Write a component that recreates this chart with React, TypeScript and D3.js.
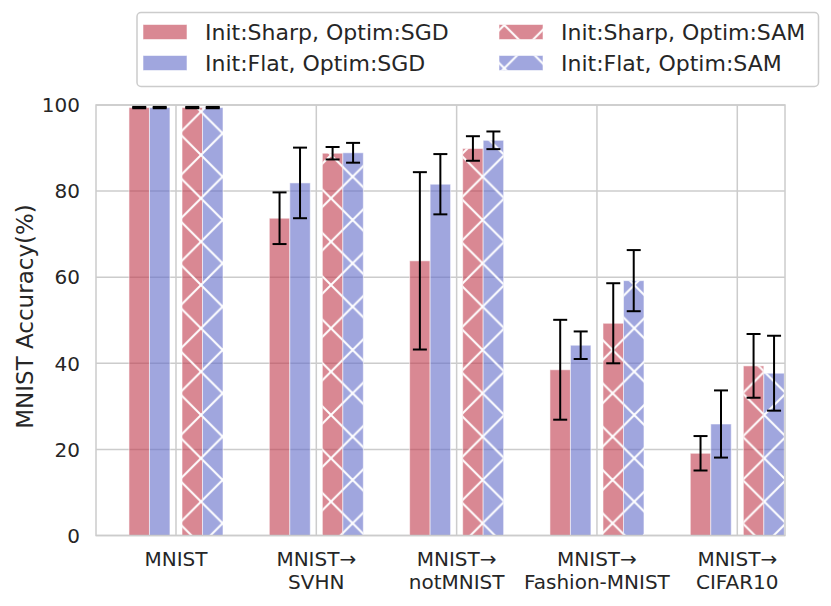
import * as d3 from "d3";

// categories on the x axis (each entry is the lines of one tick label)
const groupLabels = [
  ["MNIST"],
  ["MNIST→", "SVHN"],
  ["MNIST→", "notMNIST"],
  ["MNIST→", "Fashion-MNIST"],
  ["MNIST→", "CIFAR10"],
];

const seriesNames = [
  "Init:Sharp, Optim:SGD",
  "Init:Flat, Optim:SGD",
  "Init:Sharp, Optim:SAM",
  "Init:Flat, Optim:SAM",
];

// accuracy (%) and half-width of the error bar
const sharpSgd = [99.4, 73.7, 63.8, 38.5, 19.1];
const sharpSgdErr = [0.15, 6.0, 20.6, 11.6, 4.0];
const flatSgd = [99.4, 81.9, 81.6, 44.2, 25.9];
const flatSgdErr = [0.15, 8.2, 7.0, 3.2, 7.8];
const sharpSam = [99.4, 88.8, 89.9, 49.3, 39.4];
const sharpSamErr = [0.15, 1.45, 2.85, 9.3, 7.4];
const flatSam = [99.4, 88.9, 91.8, 59.2, 37.7];
const flatSamErr = [0.15, 2.3, 2.05, 7.1, 8.7];

const yTicks = [0, 20, 40, 60, 80, 100];

const seriesValues = [sharpSgd, flatSgd, sharpSam, flatSam];
const seriesErrors = [sharpSgdErr, flatSgdErr, sharpSamErr, flatSamErr];

// styling
const RED = "rgba(192,56,75,0.6)";
const BLUE = "rgba(97,107,200,0.6)";
const SERIES_STYLE = [
  { fill: RED, hatch: false },
  { fill: BLUE, hatch: false },
  { fill: RED, hatch: true },
  { fill: BLUE, hatch: true },
];

const WIDTH = 831;
const HEIGHT = 606;
const PLOT = { left: 96, right: 785, top: 105, bottom: 535.5 };
const BAR_W = 0.146;
const BAR_OFFSETS = [-0.262, -0.116, 0.116, 0.262];
const GRID = "#cccccc";
const TEXT = "#262626";
const FONT = "'DejaVu Sans', sans-serif";
const HATCH = 43.33;

export default function App() {
  const xScale = d3.scaleLinear().domain([-0.57, 4.34]).range([PLOT.left, PLOT.right]);
  const yScale = d3.scaleLinear().domain([0, 100]).range([PLOT.bottom, PLOT.top]);
  const barPx = xScale(BAR_W) - xScale(0);

  const bars = seriesValues.flatMap((vals, s) =>
    vals.map((v, g) => {
      const cx = xScale(g + BAR_OFFSETS[s]);
      const y = yScale(v);
      const h = yScale(0) - y;
      const style = SERIES_STYLE[s];
      return (
        <g key={`b-${s}-${g}`}>
          <rect
            x={cx - barPx / 2}
            y={y}
            width={barPx}
            height={h}
            fill={style.fill}
            stroke="rgba(255,255,255,0.55)"
            strokeWidth={1}
          />
          {style.hatch && (
            <rect x={cx - barPx / 2} y={y} width={barPx} height={h} fill="url(#hatchX)" />
          )}
        </g>
      );
    })
  );

  const errorBars = seriesValues.flatMap((vals, s) =>
    vals.map((v, g) => {
      const cx = xScale(g + BAR_OFFSETS[s]);
      const e = seriesErrors[s][g];
      const y1 = yScale(v + e);
      const y2 = yScale(v - e);
      return (
        <g key={`e-${s}-${g}`} stroke="#000" strokeWidth={2}>
          <line x1={cx} x2={cx} y1={y1} y2={y2} />
          <line x1={cx - 7} x2={cx + 7} y1={y1} y2={y1} />
          <line x1={cx - 7} x2={cx + 7} y1={y2} y2={y2} />
        </g>
      );
    })
  );

  // legend layout
  const legend = { x: 137, y: 12.5, w: 681.5, h: 74 };
  const rowY = [32, 63];
  const colX = [143, 499];
  const legendItems = seriesNames.map((name, i) => {
    const col = Math.floor(i / 2);
    const row = i % 2;
    const style = SERIES_STYLE[i];
    const px = colX[col];
    const py = rowY[row];
    return (
      <g key={`l-${i}`}>
        <rect x={px} y={py - 7.5} width={44} height={15} fill={style.fill} stroke="rgba(255,255,255,0.55)" />
        {style.hatch && <rect x={px} y={py - 7.5} width={44} height={15} fill="url(#hatchX)" />}
        <text x={px + 62} y={py} dy="0.36em" fontSize={22} fill={TEXT} fontFamily={FONT}>
          {name}
        </text>
      </g>
    );
  });

  return (
    <>
      <style>{"body{margin:0}"}</style>
      <svg width={WIDTH} height={HEIGHT} style={{ display: "block" }}>
        <defs>
          <pattern
            id="hatchX"
            patternUnits="userSpaceOnUse"
            x={27.67}
            y={25}
            width={HATCH}
            height={HATCH}
          >
            <line x1={-2} y1={-2} x2={HATCH + 2} y2={HATCH + 2} stroke="#fff" strokeWidth={2} />
            <line x1={HATCH + 2} y1={-2} x2={-2} y2={HATCH + 2} stroke="#fff" strokeWidth={2} />
          </pattern>
        </defs>
        <rect width={WIDTH} height={HEIGHT} fill="#fff" />

        {/* grid */}
        {yTicks.map((t) => (
          <line key={`gy-${t}`} x1={PLOT.left} x2={PLOT.right} y1={yScale(t)} y2={yScale(t)} stroke={GRID} strokeWidth={1.5} />
        ))}
        {groupLabels.map((_, g) => (
          <line key={`gx-${g}`} x1={xScale(g)} x2={xScale(g)} y1={PLOT.top} y2={PLOT.bottom} stroke={GRID} strokeWidth={1.5} />
        ))}

        {bars}

        <rect
          x={PLOT.left}
          y={PLOT.top}
          width={PLOT.right - PLOT.left}
          height={PLOT.bottom - PLOT.top}
          fill="none"
          stroke={GRID}
          strokeWidth={1.5}
        />

        {errorBars}

        {/* y axis */}
        {yTicks.map((t) => (
          <text key={`yt-${t}`} x={80} y={yScale(t)} dy="0.36em" textAnchor="end" fontSize={20} fill={TEXT} fontFamily={FONT}>
            {t}
          </text>
        ))}
        <text
          transform={`translate(33,316.5) rotate(-90)`}
          textAnchor="middle"
          fontSize={23}
          fill={TEXT}
          fontFamily={FONT}
        >
          MNIST Accuracy(%)
        </text>

        {/* x axis */}
        {groupLabels.map((lines, g) => (
          <text key={`xt-${g}`} textAnchor="middle" fontSize={20} fill={TEXT} fontFamily={FONT}>
            {lines.map((ln, k) => (
              <tspan key={k} x={xScale(g)} y={566 + k * 23}>
                {ln}
              </tspan>
            ))}
          </text>
        ))}

        {/* legend */}
        <rect
          x={legend.x}
          y={legend.y}
          width={legend.w}
          height={legend.h}
          rx={4}
          fill="rgba(255,255,255,0.8)"
          stroke={GRID}
          strokeWidth={1.5}
        />
        {legendItems}
      </svg>
    </>
  );
}
